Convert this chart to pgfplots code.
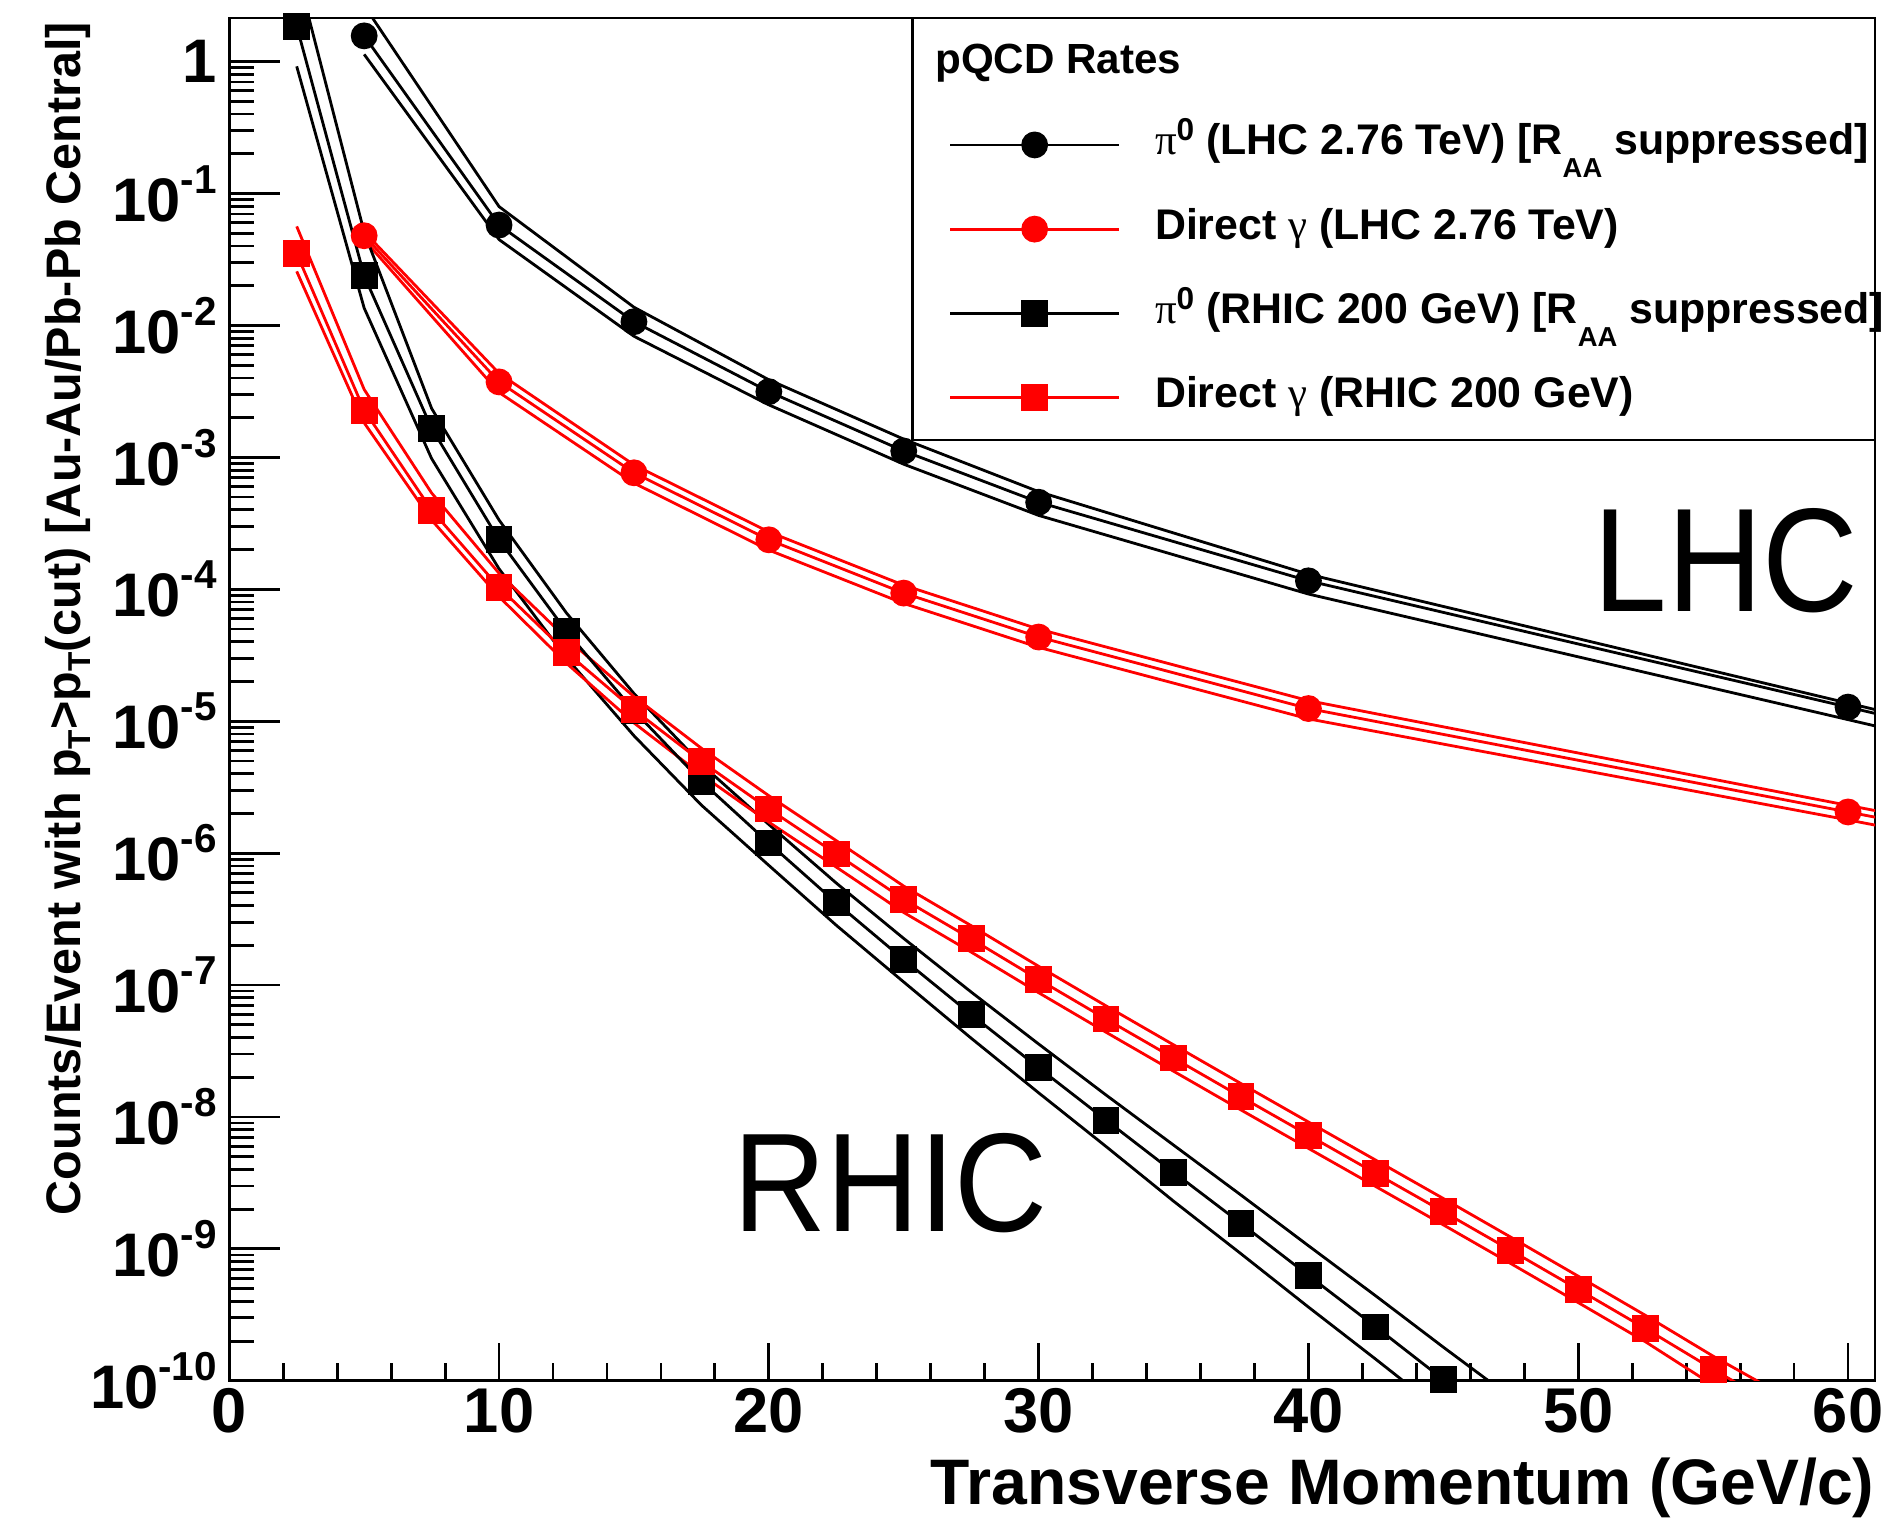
\documentclass[border=0pt]{standalone}
\usepackage{fontspec}
\setmainfont{Liberation Sans}
\newfontfamily\symb{Liberation Serif}
\usepackage{pgfplots}
\usepackage{pgfplotstable}
\pgfplotsset{compat=1.18}
\usetikzlibrary{calc}

% ROOT-like labels
\newcommand{\dec}[1]{10\raisebox{2.8mm}{\fontsize{11.5}{11.5}\selectfont #1}}
\newcommand{\pizero}{{\symb\mdseries π}\raisebox{1.4mm}{\fontsize{9}{9}\selectfont 0}}
\newcommand{\gam}{{\symb\mdseries γ}}
\newcommand{\RAA}{R\raisebox{-2.3mm}{\fontsize{7.8}{7.8}\selectfont AA}}
\newcommand{\subT}{\raisebox{-1mm}{\fontsize{9}{9}\selectfont T}}

% x, central value, upper and lower band
\pgfplotstableread{
x c up lo
5 1.567 2.661 1.135
10 5.77e-2 7.96e-2 4.477e-2
15 1.067e-2 1.374e-2 8.279e-3
20 3.148e-3 3.873e-3 2.500e-3
25 1.117e-3 1.374e-3 8.872e-4
30 4.571e-4 5.495e-4 3.631e-4
40 1.159e-4 1.300e-4 9.204e-5
60 1.279e-5 1.371e-5 1.028e-5
70 4.266e-6 4.467e-6 3.428e-6
}\lhcpi

\pgfplotstableread{
x c up lo
5 4.786e-2 5.129e-2 4.467e-2
10 3.733e-3 4.335e-3 3.105e-3
15 7.638e-4 8.770e-4 6.383e-4
20 2.371e-4 2.723e-4 1.982e-4
25 9.354e-5 1.074e-4 7.816e-5
30 4.345e-5 4.989e-5 3.631e-5
40 1.247e-5 1.432e-5 1.042e-5
60 2.051e-6 2.301e-6 1.786e-6
70 8.318e-7 9.333e-7 7.244e-7
}\lhcga

\pgfplotstableread{
x c up lo
2.5 1.858 4.887 0.9204
5 2.382e-2 5.093e-2 1.355e-2
7.5 1.663e-3 2.350e-3 9.795e-4
10 2.371e-4 3.350e-4 1.429e-4
12.5 4.786e-5 6.607e-5 3.020e-5
15 1.202e-5 1.622e-5 7.762e-6
17.5 3.499e-6 4.721e-6 2.312e-6
20 1.194e-6 1.648e-6 8.072e-7
22.5 4.198e-7 5.929e-7 2.838e-7
25 1.560e-7 2.254e-7 1.054e-7
27.5 5.984e-8 8.851e-8 3.954e-8
30 2.360e-8 3.573e-8 1.524e-8
32.5 9.462e-9 1.466e-8 5.970e-9
35 3.819e-9 6.124e-9 2.301e-9
37.5 1.560e-9 2.559e-9 9.183e-10
40 6.295e-10 1.057e-9 3.622e-10
42.5 2.559e-10 4.395e-10 1.455e-10
45 1.023e-10 1.799e-10 5.754e-11
47.5 4.169e-11 7.499e-11 2.291e-11
}\rhicpi

\pgfplotstableread{
x c up lo
2.5 3.499e-2 5.636e-2 2.570e-2
5 2.280e-3 3.273e-3 1.828e-3
7.5 3.981e-4 5.370e-4 3.350e-4
10 1.035e-4 1.321e-4 8.790e-5
12.5 3.327e-5 4.246e-5 2.748e-5
15 1.222e-5 1.538e-5 9.705e-6
17.5 4.955e-6 6.237e-6 3.936e-6
20 2.163e-6 2.723e-6 1.718e-6
22.5 9.863e-7 1.242e-6 7.834e-7
25 4.467e-7 5.623e-7 3.548e-7
27.5 2.239e-7 2.818e-7 1.778e-7
30 1.102e-7 1.387e-7 8.750e-8
32.5 5.521e-8 6.950e-8 4.385e-8
35 2.799e-8 3.524e-8 2.223e-8
37.5 1.422e-8 1.791e-8 1.130e-8
40 7.278e-9 9.162e-9 5.781e-9
42.5 3.733e-9 4.699e-9 2.965e-9
45 1.914e-9 2.410e-9 1.521e-9
47.5 9.750e-10 1.227e-9 7.745e-10
50 4.932e-10 6.209e-10 3.917e-10
52.5 2.483e-10 3.126e-10 1.972e-10
55 1.222e-10 1.538e-10 9.268e-11
57.5 6.166e-11 7.943e-11 4.571e-11
}\rhicga

\pgfplotsset{
  band/.style={line width=0.8pt, mark=none, forget plot},
}

\begin{document}
\begin{tikzpicture}
\begin{axis}[
    scale only axis,
    width=16.46cm, height=13.63cm,
    xmin=0, xmax=61,
    ymode=log, ymin=1e-10, ymax=2.14,
    axis line style={line width=0.8pt},
    tick align=inside,
    xtick pos=left, ytick pos=left,
    xtick={0,10,...,60}, minor x tick num=4,
    ytick={1e-10,1e-9,1e-8,1e-7,1e-6,1e-5,1e-4,1e-3,1e-2,1e-1,1},
    yticklabels={\dec{-10},\dec{-9},\dec{-8},\dec{-7},\dec{-6},\dec{-5},\dec{-4},\dec{-3},\dec{-2},\dec{-1},1},
    major tick length=5.1mm, minor tick length=2.5mm,
    xtick style={/pgfplots/major tick length=3.8mm, /pgfplots/minor tick length=1.8mm},
    every tick/.style={black, line width=0.8pt},
    /pgf/number format/assume math mode=true,
    xticklabel style={font=\fontsize{18}{18}\selectfont\bfseries, yshift=0.5mm},
    yticklabel style={font=\fontsize{17.5}{17.5}\selectfont\bfseries},
    xlabel={Transverse Momentum (GeV/c)},
    xlabel style={font=\fontsize{18.3}{18.3}\selectfont\bfseries, inner sep=0pt, at={(axis description cs:1,-0.091)}, anchor=base east},
    ylabel={Counts/Event with p\subT>p\subT(cut) [Au-Au/Pb-Pb Central]},
    ylabel style={font=\fontsize{13.8}{14}\selectfont\bfseries, at={(axis description cs:-0.0905,1.006)}, anchor=base east},
    legend style={at={(axis description cs:0.4372,0.9230)}, anchor=north west,
        draw=none, fill=none, inner sep=0pt, outer sep=0pt,
        column sep=3.45mm, row sep=4.02mm,
        font=\fontsize{12.2}{13}\selectfont\bfseries,
        nodes={inner sep=0pt, text height=3.2mm, text depth=1.2mm}},
    legend cell align=left,
    legend image code/.code={\draw[#1, mark indices={2}] plot coordinates {(0cm,0cm) (0.845cm,0cm) (1.69cm,0cm)};},
]
% scale bands
\addplot[band, black] table[x=x, y=up] {\lhcpi};
\addplot[band, black] table[x=x, y=lo] {\lhcpi};
\addplot[band, red] table[x=x, y=up] {\lhcga};
\addplot[band, red] table[x=x, y=lo] {\lhcga};
\addplot[band, black] table[x=x, y=up] {\rhicpi};
\addplot[band, black] table[x=x, y=lo] {\rhicpi};
\addplot[band, red] table[x=x, y=up] {\rhicga};
\addplot[band, red] table[x=x, y=lo] {\rhicga};

% central values
\addplot[black, line width=0.8pt, mark=*, mark size=1.2mm, mark indices={1,2,3,4,5,6,7,8}] table[x=x, y=c] {\lhcpi};
\addlegendentry{\pizero\ (LHC 2.76 TeV) [\RAA\ suppressed]}
\addplot[red, line width=0.8pt, mark=*, mark size=1.2mm, mark indices={1,2,3,4,5,6,7,8}] table[x=x, y=c] {\lhcga};
\addlegendentry{Direct \gam\ (LHC 2.76 TeV)}
\addplot[black, line width=0.8pt, mark=square*, mark size=1.2mm, mark indices={1,2,3,4,5,6,7,8,9,10,11,12,13,14,15,16,17,18}] table[x=x, y=c] {\rhicpi};
\addlegendentry{\pizero\ (RHIC 200 GeV) [\RAA\ suppressed]}
\addplot[red, line width=0.8pt, mark=square*, mark size=1.2mm, mark indices={1,2,3,4,5,6,7,8,9,10,11,12,13,14,15,16,17,18,19,20,21,22}] table[x=x, y=c] {\rhicga};
\addlegendentry{Direct \gam\ (RHIC 200 GeV)}

\draw[line width=0.8pt, fill=white] (axis description cs:0.4152,0.6904) rectangle (axis description cs:1,1);
\node[anchor=base west, inner sep=0pt, font=\fontsize{12}{12}\selectfont\bfseries] at (axis description cs:0.4286,0.9594) {pQCD Rates};
\node[anchor=base west, inner sep=0pt] at (axis cs:18.65,1.36e-9) {\scalebox{0.916}[1]{\fontsize{40}{40}\selectfont RHIC}};
\node[anchor=base west, inner sep=0pt] at (axis cs:50.55,6.75e-5) {\scalebox{0.897}[1]{\fontsize{42}{42}\selectfont LHC}};
\end{axis}
\pgfresetboundingbox
\path[use as bounding box] ($(current axis.south west)+(-2.293cm,-1.37cm)$) rectangle ($(current axis.north east)+(0.15cm,0.18cm)$);
\end{tikzpicture}
\end{document}
